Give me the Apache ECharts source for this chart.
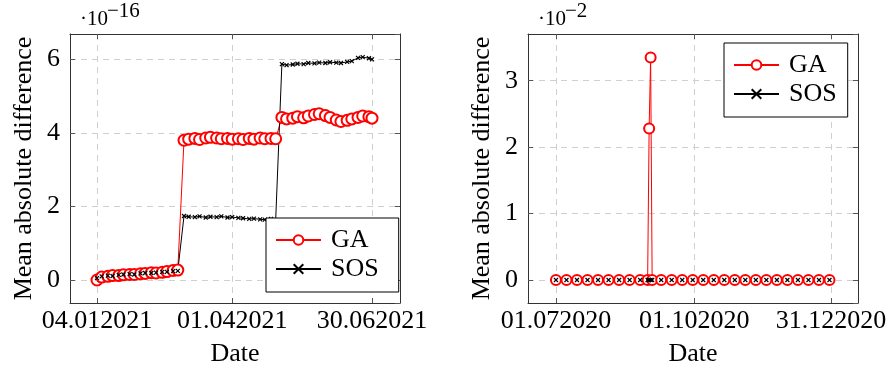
<!DOCTYPE html>
<html>
<head>
<meta charset="utf-8">
<script src="https://cdn.jsdelivr.net/npm/echarts@6/dist/echarts.min.js"></script>
<style>
  html, body { margin: 0; padding: 0; background: #fff; }
  #chart { width: 891px; height: 374px; }
</style>
</head>
<body>
<div id="chart"></div>
<script>
// left panel (values in units of 1e-16)
const leftDates = [
  '2021-01-04', '2021-01-07', '2021-01-11', '2021-01-14', '2021-01-18', '2021-01-21', '2021-01-25', '2021-01-28',
  '2021-02-01', '2021-02-04', '2021-02-08', '2021-02-11', '2021-02-15', '2021-02-18', '2021-02-22', '2021-02-25',
  '2021-03-01', '2021-03-04', '2021-03-08', '2021-03-11', '2021-03-15', '2021-03-18', '2021-03-22', '2021-03-25', '2021-03-29',
  '2021-04-01', '2021-04-05', '2021-04-08', '2021-04-12', '2021-04-15', '2021-04-19', '2021-04-22', '2021-04-26', '2021-04-29',
  '2021-05-03', '2021-05-06', '2021-05-10', '2021-05-13', '2021-05-17', '2021-05-20', '2021-05-24', '2021-05-27', '2021-05-31',
  '2021-06-03', '2021-06-07', '2021-06-10', '2021-06-14', '2021-06-17', '2021-06-21', '2021-06-24', '2021-06-28', '2021-06-30'
];
const leftGA = [
  0.00, 0.08, 0.10, 0.12, 0.12, 0.14, 0.15, 0.15, 0.17, 0.18, 0.20, 0.19, 0.21, 0.23, 0.26, 0.27,
  3.80, 3.83, 3.85, 3.82, 3.86, 3.88, 3.86, 3.84, 3.85, 3.83, 3.84, 3.82, 3.85, 3.83, 3.86, 3.84, 3.85, 3.84,
  4.42, 4.38, 4.40, 4.44, 4.41, 4.46, 4.50, 4.52, 4.47, 4.42, 4.35, 4.31, 4.34, 4.38, 4.42, 4.46, 4.44, 4.40
];
const leftSOS = [
  0.05, 0.10, 0.12, 0.11, 0.14, 0.15, 0.16, 0.15, 0.18, 0.19, 0.19, 0.20, 0.22, 0.22, 0.24, 0.25,
  1.74, 1.72, 1.71, 1.73, 1.70, 1.72, 1.71, 1.73, 1.70, 1.71, 1.69, 1.68, 1.66, 1.67, 1.65, 1.64, 1.66, 1.63,
  5.87, 5.84, 5.86, 5.88, 5.87, 5.90, 5.89, 5.91, 5.90, 5.92, 5.91, 5.90, 5.93, 5.95, 6.04, 6.06, 6.03, 6.00
];
const leftTicks = ['2021-01-04', '2021-04-01', '2021-06-30'];

// right panel (values in units of 1e-2)
const rightDates = [
  '2020-07-01', '2020-07-08', '2020-07-15', '2020-07-22', '2020-07-29', '2020-08-05', '2020-08-12', '2020-08-19',
  '2020-08-26', '2020-08-31', '2020-09-01', '2020-09-02', '2020-09-03', '2020-09-09', '2020-09-16', '2020-09-23',
  '2020-09-30', '2020-10-07', '2020-10-14', '2020-10-21', '2020-10-28', '2020-11-04', '2020-11-11', '2020-11-18',
  '2020-11-25', '2020-12-02', '2020-12-09', '2020-12-16', '2020-12-23', '2020-12-30'
];
const rightGA = [
  0, 0, 0, 0, 0, 0, 0, 0, 0, 0, 2.28, 3.35, 0, 0, 0, 0,
  0, 0, 0, 0, 0, 0, 0, 0, 0, 0, 0, 0, 0, 0
];
const rightSOS = [
  0, 0, 0, 0, 0, 0, 0, 0, 0, 0, 0, 0, 0, 0, 0, 0,
  0, 0, 0, 0, 0, 0, 0, 0, 0, 0, 0, 0, 0, 0
];
const rightTicks = ['2020-07-01', '2020-10-01', '2020-12-31'];

const DAY = 86400000;
const FONT = '"Liberation Serif", "DejaVu Serif", serif';
const ts = s => +new Date(s + 'T00:00:00');
const pairs = (dates, vals) => dates.map((d, i) => [ts(d), vals[i]]);
const pad2 = n => (n < 10 ? '0' : '') + n;
const fmtDate = v => {
  const d = new Date(v);
  return pad2(d.getDate()) + '.' + pad2(d.getMonth() + 1) + d.getFullYear();
};

// x is a plain value axis holding timestamps, ticks placed at the given dates
function xAxes(gridIndex, min, max, ticks) {
  const tv = ticks.map(ts);
  const line = { show: true, onZero: false, lineStyle: { color: '#333', width: 1 } };
  return [
    {
      type: 'value', gridIndex, min, max, position: 'bottom',
      axisLine: line,
      axisTick: { show: true, inside: true, length: 5, customValues: tv, lineStyle: { color: '#555' } },
      axisLabel: { customValues: tv, formatter: fmtDate, fontSize: 26, fontFamily: FONT, color: '#000', margin: 5, hideOverlap: false },
      splitLine: { show: true, lineStyle: { color: '#cfcfcf', type: [6, 5] } },
      name: 'Date', nameLocation: 'middle', nameGap: 38,
      nameTextStyle: { fontSize: 26, fontFamily: FONT, color: '#000' }
    },
    {
      type: 'value', gridIndex, min, max, position: 'top',
      axisLine: line,
      axisTick: { show: true, inside: true, length: 5, customValues: tv, lineStyle: { color: '#555' } },
      axisLabel: { show: false },
      splitLine: { show: false }
    }
  ];
}

function yAxes(gridIndex, min, max) {
  const line = { show: true, onZero: false, lineStyle: { color: '#333', width: 1 } };
  return [
    {
      type: 'value', gridIndex, min, max, splitNumber: 4, position: 'left',
      axisLine: line,
      axisTick: { show: true, inside: true, length: 5, lineStyle: { color: '#555' } },
      axisLabel: { showMinLabel: false, showMaxLabel: false, fontSize: 26, fontFamily: FONT, color: '#000', margin: 10 },
      splitLine: { show: true, lineStyle: { color: '#cfcfcf', type: [6, 5] } },
      name: 'Mean absolute difference', nameLocation: 'middle', nameRotate: 90, nameGap: 33,
      nameTextStyle: { fontSize: 26, fontFamily: FONT, color: '#000' }
    },
    {
      type: 'value', gridIndex, min, max, splitNumber: 4, position: 'right',
      axisLine: line,
      axisTick: { show: true, inside: true, length: 5, lineStyle: { color: '#555' } },
      axisLabel: { show: false },
      splitLine: { show: false }
    }
  ];
}

const gaStyle = size => ({
  type: 'line', symbol: 'emptyCircle', symbolSize: size,
  itemStyle: { color: '#ff0000', borderWidth: 1 },
  lineStyle: { color: '#ff0000', width: 1 }
});
const sosStyle = {
  type: 'line', symbol: 'path://M0,0L10,10M10,0L0,10', symbolSize: 4,
  itemStyle: { color: '#000', borderColor: '#000', borderWidth: 1.2 },
  lineStyle: { color: '#000', width: 1 }
};

function legend(left, top, padRight) {
  return {
    data: ['GA', 'SOS'], orient: 'vertical', left, top,
    itemWidth: 45, itemHeight: 12, itemGap: 3,
    padding: [9, padRight, 10, 9],
    backgroundColor: '#fff', borderColor: '#000', borderWidth: 1,
    textStyle: { fontSize: 26, fontFamily: FONT, color: '#000', padding: [0, 0, 0, 5] }
  };
}

const chart = echarts.init(document.getElementById('chart'), null, { renderer: 'canvas' });
chart.setOption({
  animation: false,
  backgroundColor: '#fff',
  grid: [
    { left: 70, right: 491, top: 34, bottom: 71 },
    { left: 528, right: 33, top: 34, bottom: 71 }
  ],
  xAxis: [
    ...xAxes(0, ts('2021-01-04') - 17.38 * DAY, ts('2021-06-30') + 18.02 * DAY, leftTicks),
    ...xAxes(1, ts('2020-07-01') - 18.6 * DAY, ts('2020-12-31') + 17.97 * DAY, rightTicks)
  ],
  yAxis: [
    ...yAxes(0, -0.625, 6.688),
    ...yAxes(1, -0.346, 3.703)
  ],
  legend: [legend(266, 218, 20), legend(724, 43, 11)],
  series: [
    { ...gaStyle(11), name: 'GA', xAxisIndex: 0, yAxisIndex: 0, data: pairs(leftDates, leftGA) },
    { ...sosStyle, name: 'SOS', xAxisIndex: 0, yAxisIndex: 0, data: pairs(leftDates, leftSOS) },
    { ...gaStyle(10), name: 'GA', xAxisIndex: 2, yAxisIndex: 2, data: pairs(rightDates, rightGA) },
    { ...sosStyle, name: 'SOS', xAxisIndex: 2, yAxisIndex: 2, data: pairs(rightDates, rightSOS) }
  ],
  graphic: [
    { type: 'text', x: 80, y: 19, style: { text: '·10', font: '21px ' + FONT, fill: '#000', verticalAlign: 'middle' } },
    { type: 'text', x: 107, y: 11, style: { text: '−16', font: '21px ' + FONT, fill: '#000', verticalAlign: 'middle' } },
    { type: 'text', x: 538, y: 19, style: { text: '·10', font: '21px ' + FONT, fill: '#000', verticalAlign: 'middle' } },
    { type: 'text', x: 565, y: 11, style: { text: '−2', font: '21px ' + FONT, fill: '#000', verticalAlign: 'middle' } }
  ]
});
</script>
</body>
</html>
